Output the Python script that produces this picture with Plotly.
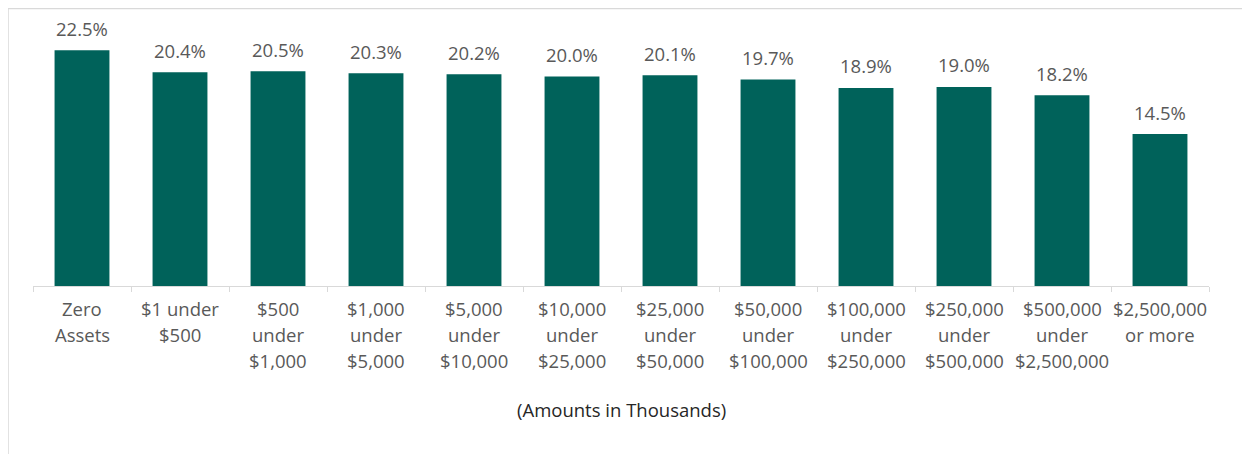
import plotly.graph_objects as go

categories = ["Zero Assets", "$1 under $500", "$500 under $1,000", "$1,000 under $5,000",
              "$5,000 under $10,000", "$10,000 under $25,000", "$25,000 under $50,000",
              "$50,000 under $100,000", "$100,000 under $250,000", "$250,000 under $500,000",
              "$500,000 under $2,500,000", "$2,500,000 or more"]
label_lines = [["Zero", "Assets"], ["$1 under", "$500"], ["$500", "under", "$1,000"],
               ["$1,000", "under", "$5,000"], ["$5,000", "under", "$10,000"],
               ["$10,000", "under", "$25,000"], ["$25,000", "under", "$50,000"],
               ["$50,000", "under", "$100,000"], ["$100,000", "under", "$250,000"],
               ["$250,000", "under", "$500,000"], ["$500,000", "under", "$2,500,000"],
               ["$2,500,000", "or more"]]
values = [22.5, 20.4, 20.5, 20.3, 20.2, 20.0, 20.1, 19.7, 18.9, 19.0, 18.2, 14.5]
value_labels = ["22.5%", "20.4%", "20.5%", "20.3%", "20.2%", "20.0%", "20.1%", "19.7%",
                "18.9%", "19.0%", "18.2%", "14.5%"]
axis_title = "(Amounts in Thousands)"

FONT = "Open Sans, Calibri, Carlito, sans-serif"
GREY = "#595959"
FS = 18.5

fig = go.Figure(go.Bar(x=categories, y=values, marker_color="#00625A",
                       marker_line_width=0, width=0.56, hoverinfo="skip"))

annotations = []
for c, v, t in zip(categories, values, value_labels):
    annotations.append(dict(x=c, y=v, xref="x", yref="y", text=t, showarrow=False,
                            yanchor="middle", yshift=22,
                            font=dict(family=FONT, size=FS, color=GREY)))
for c, lines in zip(categories, label_lines):
    for i, ln in enumerate(lines):
        annotations.append(dict(x=c, y=0, xref="x", yref="y", text=ln, showarrow=False,
                                yanchor="middle", yshift=-22.5 - 26 * i,
                                font=dict(family=FONT, size=FS, color=GREY)))
annotations.append(dict(x=0.5, y=0, xref="paper", yref="y", text=axis_title,
                        showarrow=False, yanchor="middle", yshift=-123,
                        font=dict(family=FONT, size=FS, color="#262626")))

fig.update_layout(
    width=1242, height=446,
    margin=dict(l=25, r=41, t=15.5, b=168),
    paper_bgcolor="white", plot_bgcolor="white",
    showlegend=False,
    annotations=annotations,
    xaxis=dict(showticklabels=False, tickson="boundaries", ticks="outside", ticklen=5,
               tickcolor="#d9d9d9", showline=True, linecolor="#d9d9d9", linewidth=1,
               showgrid=False, fixedrange=True),
    yaxis=dict(range=[0, 25], visible=False, showgrid=False, zeroline=False, fixedrange=True),
    shapes=[
        dict(type="line", xref="paper", yref="paper", x0=-25 / 1176, x1=1.1,
             y0=1 + 15.5 / 262.5, y1=1 + 15.5 / 262.5, line=dict(color="#d9d9d9", width=1.5)),
        dict(type="line", xref="paper", yref="paper", x0=-25 / 1176, x1=-25 / 1176,
             y0=1 + 15.5 / 262.5, y1=-1.0, line=dict(color="#d9d9d9", width=1.5)),
    ],
)

fig.write_html("out.html", config={"displayModeBar": False})
